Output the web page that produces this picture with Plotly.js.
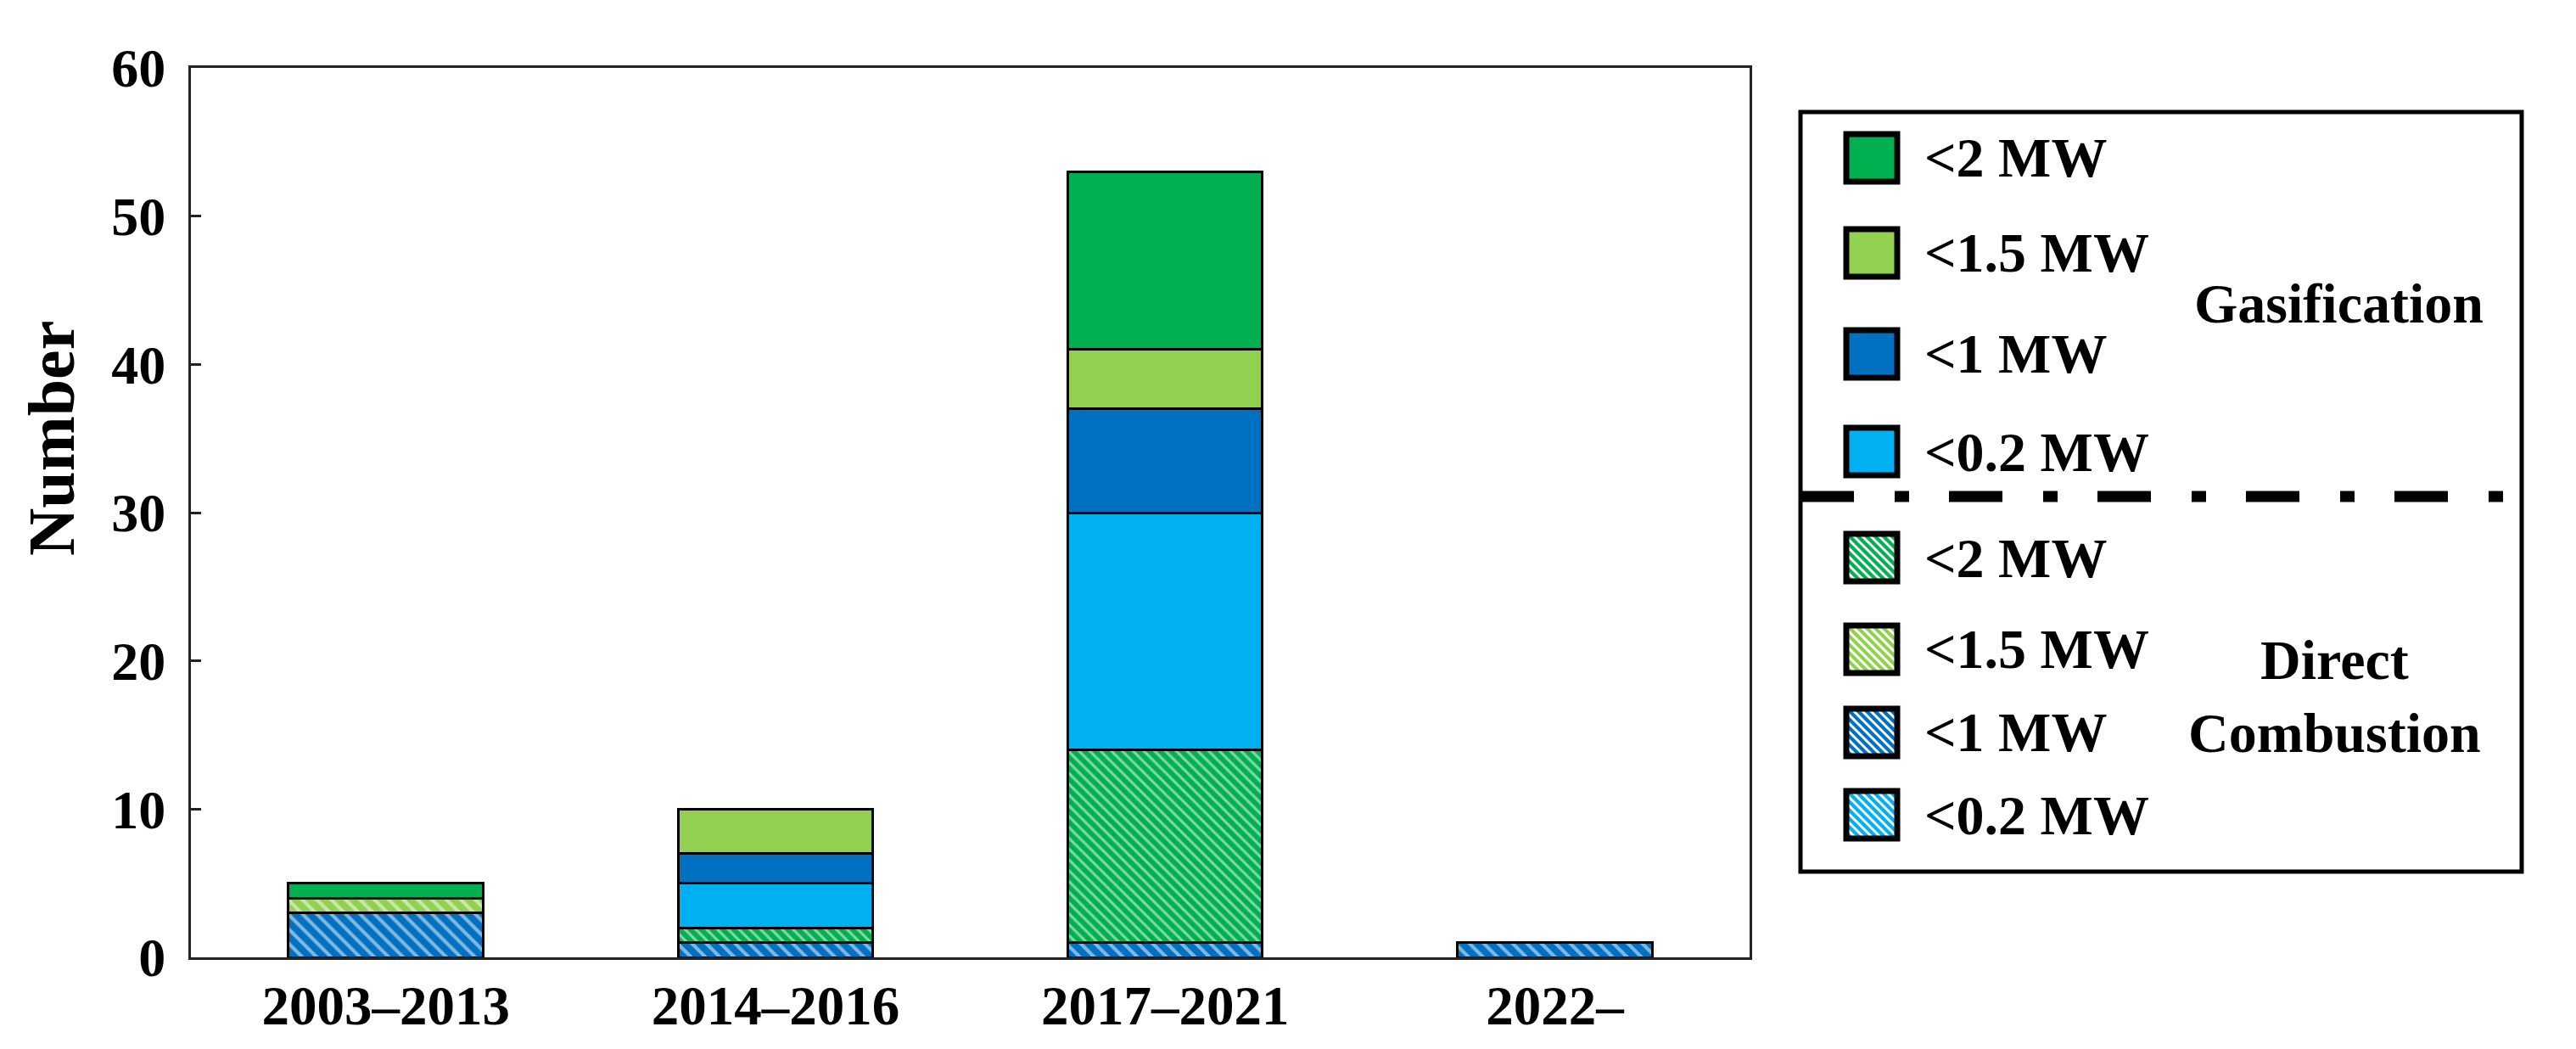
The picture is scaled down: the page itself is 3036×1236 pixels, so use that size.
<!DOCTYPE html>
<html>
<head>
<meta charset="utf-8">
<script src="https://cdn.plot.ly/plotly-3.0.1.min.js"></script>
<style>html,body{margin:0;padding:0;background:#fff;}#chart{width:3036px;height:1236px;}</style>
</head>
<body>
<div id="chart"></div>
<script>
// ---- data ----
const categories = ['2003\u20132013', '2014\u20132016', '2017\u20132021', '2022\u2013'];
// Direct combustion (hatched)
const direct02 = [0, 0, 0, 0];
const direct1  = [3, 1, 1, 1];
const direct15 = [1, 0, 0, 0];
const direct2  = [0, 1, 13, 0];
// Gasification (solid)
const gas02 = [0, 3, 16, 0];
const gas1  = [0, 2, 7, 0];
const gas15 = [0, 3, 4, 0];
const gas2  = [1, 0, 12, 0];
const sizeLabels = ['<2 MW', '<1.5 MW', '<1 MW', '<0.2 MW'];
const yTicks = [0, 10, 20, 30, 40, 50, 60];
const groupLabels = ['Gasification', 'Direct<br>Combustion'];

// ---- styling ----
const W = 3036, H = 1236;
const FONT = 'Liberation Serif, Times New Roman, serif';
const C2 = '#00B050', C15 = '#92D050', C1 = '#0070C0', C02 = '#00B0F0';
const fx = x => x / W;
const fy = y => 1 - y / H;

function bar(name, vals, color, hatchSize) {
  const t = {
    type: 'bar', name: name, x: categories,
    y: vals.map(v => v === 0 ? null : v),
    width: 0.5,
    marker: { color: color, line: { color: '#000', width: 3 } },
    hoverinfo: 'skip', showlegend: false
  };
  if (hatchSize) {
    t.marker.pattern = { shape: '\\', fillmode: 'overlay', fgcolor: '#ffffff', bgcolor: color, size: hatchSize, solidity: 0.35 };
  }
  return t;
}

const traces = [
  bar('Direct Combustion <0.2 MW', direct02, C02, 12),
  bar('Direct Combustion <1 MW', direct1, C1, 12),
  bar('Direct Combustion <1.5 MW', direct15, C15, 12),
  bar('Direct Combustion <2 MW', direct2, C2, 9),
  bar('Gasification <0.2 MW', gas02, C02, 0),
  bar('Gasification <1 MW', gas1, C1, 0),
  bar('Gasification <1.5 MW', gas15, C15, 0),
  bar('Gasification <2 MW', gas2, C2, 0)
];

// ---- custom legend ----
const shapes = [];
const annotations = [];
const esc = s => s.replace(/</g, '&lt;');

shapes.push({ type: 'rect', xref: 'paper', yref: 'paper',
  x0: fx(2122), x1: fx(2972), y0: fy(132), y1: fy(1027),
  line: { color: '#000', width: 5 }, fillcolor: 'rgba(0,0,0,0)' });
shapes.push({ type: 'line', xref: 'paper', yref: 'paper',
  x0: fx(2122), x1: fx(2966), y0: fy(585), y1: fy(585),
  line: { color: '#000', width: 13, dash: '63px,48px,17px,47px' } });

const gasColors = [C2, C15, C1, C02];
const gasY = [186, 298, 417, 532];
const dirY = [657, 765, 863, 960];
const cx = 2206;

function swatch(cy, color, hatched) {
  const x0 = cx - 30, x1 = cx + 30, y0 = cy - 28, y1 = cy + 28;
  shapes.push({ type: 'rect', xref: 'paper', yref: 'paper',
    x0: fx(x0), x1: fx(x1), y0: fy(y0), y1: fy(y1),
    fillcolor: color, line: { width: 0 } });
  if (hatched) {
    const ix0 = x0 + 2, ix1 = x1 - 2, iy0 = y0 + 2, iy1 = y1 - 2;
    // lines of form y - x = c (top-left to bottom-right)
    for (let c = iy0 - ix1; c <= iy1 - ix0; c += 10) {
      let ax = Math.max(ix0, iy0 - c), bx = Math.min(ix1, iy1 - c);
      if (bx - ax < 1) continue;
      shapes.push({ type: 'line', xref: 'paper', yref: 'paper',
        x0: fx(ax), y0: fy(ax + c), x1: fx(bx), y1: fy(bx + c),
        line: { color: '#ffffff', width: 3 } });
    }
  }
  shapes.push({ type: 'rect', xref: 'paper', yref: 'paper',
    x0: fx(x0), x1: fx(x1), y0: fy(y0), y1: fy(y1),
    fillcolor: 'rgba(0,0,0,0)', line: { color: '#000', width: 7 } });
}

sizeLabels.forEach((lab, i) => {
  swatch(gasY[i], gasColors[i], false);
  swatch(dirY[i], gasColors[i], true);
  [gasY[i], dirY[i]].forEach(cy => {
    annotations.push({ xref: 'paper', yref: 'paper', x: fx(2266), y: fy(cy),
      xanchor: 'left', yanchor: 'middle', showarrow: false, text: '<b>' + esc(lab) + '</b>',
      font: { family: FONT, size: 66, color: '#000' } });
  });
});
annotations.push({ xref: 'paper', yref: 'paper', x: fx(2756), y: fy(358),
  xanchor: 'center', yanchor: 'middle', showarrow: false, text: '<b>' + groupLabels[0] + '</b>',
  font: { family: FONT, size: 66, color: '#000' } });
annotations.push({ xref: 'paper', yref: 'paper', x: fx(2751), y: fy(820),
  xanchor: 'center', yanchor: 'middle', showarrow: false, text: '<b>' + groupLabels[1] + '</b>',
  align: 'center', font: { family: FONT, size: 66, color: '#000' } });
// y-axis title
annotations.push({ xref: 'paper', yref: 'paper', x: fx(60), y: fy(517),
  xanchor: 'center', yanchor: 'middle', showarrow: false, textangle: -90, text: '<b>Number</b>',
  font: { family: FONT, size: 78, color: '#000' } });

const layout = {
  width: W, height: H,
  margin: { l: 0, r: 0, t: 0, b: 0 },
  paper_bgcolor: '#fff', plot_bgcolor: '#fff',
  barmode: 'stack',
  showlegend: false,
  xaxis: {
    domain: [fx(225), fx(2062)],
    type: 'category', range: [-0.5, 3.5],
    showline: true, mirror: true, linecolor: '#222', linewidth: 3,
    ticks: '', showgrid: false, zeroline: false, automargin: false,
    ticklabelstandoff: -2,
    tickfont: { family: FONT, size: 65, color: '#000', weight: 'bold' }
  },
  yaxis: {
    domain: [fy(1128), fy(80)],
    range: [0, 60], tickvals: yTicks, ticktext: yTicks.map(String),
    showline: true, mirror: true, linecolor: '#222', linewidth: 3,
    ticks: 'inside', ticklen: 12, tickwidth: 3, tickcolor: '#222',
    showgrid: false, zeroline: false, automargin: false,
    ticklabelstandoff: 14,
    tickfont: { family: FONT, size: 64, color: '#000', weight: 'bold' }
  },
  shapes: shapes,
  annotations: annotations
};

Plotly.newPlot('chart', traces, layout, { staticPlot: true, displayModeBar: false });
</script>
</body>
</html>
